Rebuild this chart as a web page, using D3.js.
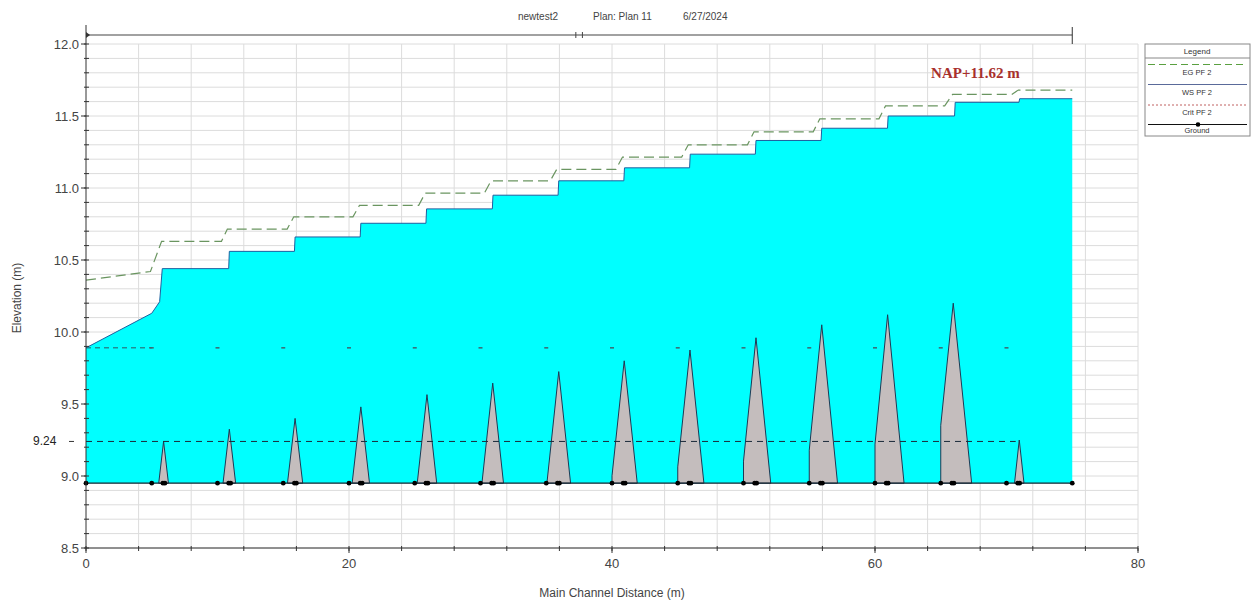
<!DOCTYPE html>
<html><head><meta charset="utf-8">
<script src="https://cdn.jsdelivr.net/npm/d3@7"></script>
<style>
html,body{margin:0;padding:0;background:#fff;}
svg{display:block;font-family:"Liberation Sans",Arial,sans-serif;}
</style></head>
<body>
<svg id="c" width="1254" height="604"></svg>
<script>
// ---------------- data ----------------
const titleParts = ["newtest2", "Plan: Plan 11", "6/27/2024"];
const xTicks = [0, 20, 40, 60, 80];
const yTicks = [8.5, 9.0, 9.5, 10.0, 10.5, 11.0, 11.5, 12.0];
const groundElev = 8.95;
const groundStations = [0, 75];
// water surface profile (WS PF 2)
const wsStation = [0, 5.0, 5.6, 5.8, 10.85, 10.9, 15.85, 15.9, 20.85, 20.9, 25.85, 25.9, 30.9, 30.95, 35.9, 35.95, 40.9, 40.95, 45.9, 45.95, 50.9, 50.95, 55.9, 55.95, 60.95, 61.0, 66.05, 66.1, 70.95, 71.0, 75];
const wsElev = [9.89, 10.13, 10.21, 10.44, 10.44, 10.56, 10.56, 10.66, 10.66, 10.755, 10.755, 10.855, 10.855, 10.95, 10.95, 11.05, 11.05, 11.14, 11.14, 11.235, 11.235, 11.33, 11.33, 11.415, 11.415, 11.50, 11.50, 11.595, 11.595, 11.62, 11.62];
// energy grade line (EG PF 2)
const egStation = [0, 4.9, 5.75, 10.3, 10.75, 15.3, 15.8, 20.3, 20.8, 25.3, 25.8, 30.3, 30.8, 35.3, 35.8, 40.3, 40.8, 45.3, 45.8, 50.3, 50.8, 55.3, 55.8, 60.3, 60.8, 65.3, 65.9, 70.4, 70.9, 75];
const egElev = [10.36, 10.42, 10.63, 10.63, 10.715, 10.715, 10.80, 10.80, 10.88, 10.88, 10.965, 10.965, 11.05, 11.05, 11.13, 11.13, 11.215, 11.215, 11.30, 11.30, 11.39, 11.39, 11.48, 11.48, 11.57, 11.57, 11.65, 11.65, 11.68, 11.68];
// critical depth (Crit PF 2)
const critStation = [0, 5, 10, 15, 20, 25, 30, 35, 40, 45, 50, 55, 60, 65, 70];
const critElev = [9.89, 9.89, 9.89, 9.89, 9.89, 9.89, 9.89, 9.89, 9.89, 9.89, 9.89, 9.89, 9.89, 9.89, 9.89];
// piers / weirs in ground profile
const pierClip = [5, 10, 15, 20, 25, 30, 35, 40, 45, 50, 55, 60, 65, 70];
const pierPeakX = [5.9, 10.9, 15.9, 20.9, 25.93, 30.93, 35.95, 40.93, 45.93, 50.95, 55.95, 60.96, 65.95, 70.97];
const pierTopZ = [9.24, 9.325, 9.40, 9.48, 9.565, 9.645, 9.725, 9.80, 9.875, 9.96, 10.05, 10.12, 10.20, 9.25];
const pierHalfW = [0.37, 0.48, 0.58, 0.66, 0.74, 0.82, 0.90, 0.99, 1.06, 1.12, 1.20, 1.25, 1.40, 0.36];
// ground points (markers)
const groundPts = [0, 5, 5.85, 6.0, 10, 10.85, 11.0, 15, 15.85, 16.0, 20, 20.85, 21.0, 25, 25.85, 26.0, 30, 30.85, 31.0, 35, 35.85, 36.0, 40, 40.85, 41.0, 45, 45.85, 46.0, 50, 50.85, 51.0, 55, 55.85, 56.0, 60, 60.85, 61.0, 65, 65.85, 66.0, 70, 70.85, 71.0, 75];
// annotations
const refLevel = 9.24;
const refLevelEnd = 70.7;
const refLabel = "9.24";
const napLabel = "NAP+11.62 m";
const napPos = [71.0, 11.765];
const reachMarker = 37.5;
const legendItems = ["EG  PF 2", "WS  PF 2", "Crit  PF 2", "Ground"];

// ---------------- drawing ----------------
const svg = d3.select("#c");
const x = d3.scaleLinear().domain([0, 80]).range([86, 1138]);
const y = d3.scaleLinear().domain([8.5, 12.0]).range([548, 44]);

// grid
const grid = svg.append("g");
grid.selectAll("line.h").data(d3.range(85, 121).map(v => v / 10)).join("line")
  .attr("x1", x(0)).attr("x2", x(80)).attr("y1", d => y(d)).attr("y2", d => y(d))
  .attr("stroke", "#dcdcdc").attr("stroke-width", 1);
grid.selectAll("line.v").data(d3.range(4, 81, 4)).join("line")
  .attr("x1", d => x(d)).attr("x2", d => x(d)).attr("y1", y(8.5)).attr("y2", y(12))
  .attr("stroke", "#dcdcdc").attr("stroke-width", 1);

// water area
const wsPts = wsStation.map((s, i) => [s, wsElev[i]]);
const area = d3.area().x(d => x(d[0])).y0(y(groundElev)).y1(d => y(d[1]));
svg.append("path").datum(wsPts).attr("d", area).attr("fill", "#00ffff");

// piers
const pierPolys = pierPeakX.map((p, i) => {
  const hw = pierHalfW[i], top = pierTopZ[i], clip = pierClip[i];
  const pts = [];
  if (p - hw < clip) {
    const zc = groundElev + (top - groundElev) * (1 - (p - clip) / hw);
    pts.push([clip, groundElev], [clip, zc]);
  } else {
    pts.push([p - hw, groundElev]);
  }
  pts.push([p, top], [p + hw, groundElev]);
  return pts;
});
svg.append("g").selectAll("path").data(pierPolys).join("path")
  .attr("d", d => d3.line().x(e => x(e[0])).y(e => y(e[1]))(d) + "Z")
  .attr("fill", "#c4bdbd").attr("stroke", "#1d3a55").attr("stroke-width", 1);

// reference dashed line 9.24
svg.append("line").attr("x1", x(0)).attr("x2", x(refLevelEnd))
  .attr("y1", y(refLevel)).attr("y2", y(refLevel))
  .attr("stroke", "#1a2a3a").attr("stroke-width", 1).attr("stroke-dasharray", "6,5");

// crit
svg.append("line").attr("x1", x(critStation[0])).attr("x2", x(critStation[1]))
  .attr("y1", y(critElev[0])).attr("y2", y(critElev[1]))
  .attr("stroke", "#2f5560").attr("stroke-width", 1).attr("stroke-dasharray", "5,4");
svg.append("g").selectAll("line").data(critStation.slice(1)).join("line")
  .attr("x1", d => x(d) - 2).attr("x2", d => x(d) + 2)
  .attr("y1", (d, i) => y(critElev[i + 1])).attr("y2", (d, i) => y(critElev[i + 1]))
  .attr("stroke", "#3d6670").attr("stroke-width", 1.5);

// ground line
svg.append("line").attr("x1", x(groundStations[0])).attr("x2", x(groundStations[1]))
  .attr("y1", y(groundElev)).attr("y2", y(groundElev))
  .attr("stroke", "#1a2630").attr("stroke-width", 1.2);
svg.append("g").selectAll("circle").data(groundPts).join("circle")
  .attr("cx", d => x(d)).attr("cy", y(groundElev)).attr("r", 2.4).attr("fill", "#000");

// WS line
svg.append("path").datum(wsPts)
  .attr("d", d3.line().x(d => x(d[0])).y(d => y(d[1])))
  .attr("fill", "none").attr("stroke", "#1f5f9f").attr("stroke-width", 1);

// EG line
const egPts = egStation.map((s, i) => [s, egElev[i]]);
svg.append("path").datum(egPts)
  .attr("d", d3.line().x(d => x(d[0])).y(d => y(d[1])))
  .attr("fill", "none").attr("stroke", "#6a9560").attr("stroke-width", 1.2)
  .attr("stroke-dasharray", "10,5");

// axes
const axC = "#333";
svg.append("line").attr("x1", x(0)).attr("x2", x(0)).attr("y1", 25).attr("y2", y(8.5)).attr("stroke", axC);
svg.append("line").attr("x1", x(0)).attr("x2", x(80)).attr("y1", y(8.5)).attr("y2", y(8.5)).attr("stroke", axC);
// y minor ticks
svg.append("g").selectAll("line").data(d3.range(85, 121).map(v => v / 10)).join("line")
  .attr("x1", x(0) - 2).attr("x2", x(0) + 3).attr("y1", d => y(d)).attr("y2", d => y(d))
  .attr("stroke", axC);
// y major ticks & labels
svg.append("g").selectAll("line").data(yTicks).join("line")
  .attr("x1", x(0) - 5).attr("x2", x(0)).attr("y1", d => y(d)).attr("y2", d => y(d)).attr("stroke", axC);
svg.append("g").selectAll("text").data(yTicks).join("text")
  .attr("x", x(0) - 7).attr("y", d => y(d) + 4.5).attr("text-anchor", "end")
  .attr("font-size", 13).attr("fill", "#444").text(d => d.toFixed(1));
// x minor ticks
svg.append("g").selectAll("line").data(d3.range(0, 81, 4)).join("line")
  .attr("x1", d => x(d)).attr("x2", d => x(d)).attr("y1", y(8.5) - 2).attr("y2", y(8.5) + 3).attr("stroke", axC);
svg.append("g").selectAll("line").data(xTicks).join("line")
  .attr("x1", d => x(d)).attr("x2", d => x(d)).attr("y1", y(8.5)).attr("y2", y(8.5) + 5).attr("stroke", axC);
svg.append("g").selectAll("text").data(xTicks).join("text")
  .attr("x", d => x(d)).attr("y", y(8.5) + 20).attr("text-anchor", "middle")
  .attr("font-size", 13).attr("fill", "#444").text(d => d);

// 9.24 label
svg.append("text").attr("x", 33).attr("y", y(refLevel) + 4).attr("font-size", 12)
  .attr("fill", "#222").text(refLabel);
svg.append("line").attr("x1", 69).attr("x2", 74).attr("y1", y(refLevel)).attr("y2", y(refLevel)).attr("stroke", "#333");

// axis titles
svg.append("text").attr("transform", `translate(21,${(y(8.5) + y(12)) / 2 + 2}) rotate(-90)`)
  .attr("text-anchor", "middle").attr("font-size", 12).attr("fill", "#444").text("Elevation (m)");
svg.append("text").attr("x", 612).attr("y", 597).attr("text-anchor", "middle")
  .attr("font-size", 12).attr("fill", "#444").text("Main Channel Distance (m)");

// title
const titleX = [518, 593, 683];
svg.append("g").selectAll("text").data(titleParts).join("text")
  .attr("x", (d, i) => titleX[i]).attr("y", 20).attr("font-size", 10).attr("fill", "#444").text(d => d);

// reach line on top
const ry = 35;
svg.append("line").attr("x1", x(0)).attr("x2", x(75)).attr("y1", ry).attr("y2", ry).attr("stroke", "#444").attr("stroke-width", 1.2);
svg.append("line").attr("x1", x(75)).attr("x2", x(75)).attr("y1", 27).attr("y2", y(12)).attr("stroke", "#333");
svg.append("path").attr("d", `M${x(0)},${ry - 3}L${x(0) + 4},${ry}L${x(0)},${ry + 3}Z`).attr("fill", "#333");
svg.append("g").selectAll("line").data([-0.25, 0.25]).join("line")
  .attr("x1", d => x(reachMarker + d)).attr("x2", d => x(reachMarker + d))
  .attr("y1", ry - 3).attr("y2", ry + 3).attr("stroke", "#444");

// NAP label
svg.append("text").attr("x", x(napPos[0])).attr("y", y(napPos[1])).attr("text-anchor", "end")
  .attr("font-family", "Liberation Serif, Times New Roman, serif").attr("font-weight", "bold")
  .attr("font-size", 15).attr("fill", "#a8302c").text(napLabel);

// legend
const lg = svg.append("g");
lg.append("rect").attr("x", 1145).attr("y", 44).attr("width", 105).attr("height", 92)
  .attr("fill", "#fff").attr("stroke", "#888");
lg.append("line").attr("x1", 1145).attr("x2", 1250).attr("y1", 58).attr("y2", 58).attr("stroke", "#888");
lg.append("text").attr("x", 1197).attr("y", 54).attr("text-anchor", "middle").attr("font-size", 8).attr("fill", "#333").text("Legend");
const lineY = [64.5, 84.5, 105, 124.5];
const textY = [77, 97, 117, 135];
const styles = [
  {stroke: "#5aa040", dash: "7,4", w: 1.2},
  {stroke: "#5a6a9a", dash: null, w: 1},
  {stroke: "#c06060", dash: "2,2", w: 1},
  {stroke: "#111", dash: null, w: 1.2}
];
legendItems.forEach((t, i) => {
  const l = lg.append("line").attr("x1", 1148).attr("x2", 1247).attr("y1", lineY[i]).attr("y2", lineY[i])
    .attr("stroke", styles[i].stroke).attr("stroke-width", styles[i].w);
  if (styles[i].dash) l.attr("stroke-dasharray", styles[i].dash);
  lg.append("text").attr("x", 1197).attr("y", textY[i] - 2).attr("text-anchor", "middle")
    .attr("font-size", 7.5).attr("fill", "#333").text(t);
});
lg.append("circle").attr("cx", 1198).attr("cy", lineY[3]).attr("r", 2.3).attr("fill", "#000");
</script>
</body></html>
